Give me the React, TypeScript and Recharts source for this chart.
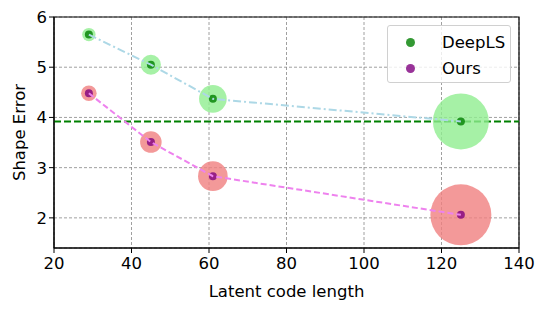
import { ScatterChart, Scatter, XAxis, YAxis, ZAxis, CartesianGrid, ReferenceLine, ReferenceArea, Legend } from "recharts"

const codeLengths = [29, 45, 61, 125]
const deepLSErrors = [5.65, 5.05, 4.37, 3.92]
const oursErrors = [4.48, 3.51, 2.83, 2.06]
// bubble areas (px^2)
const deepLSBubbles = [140, 315, 600, 2460]
const oursBubbles = [190, 365, 690, 2920]
const deepLSLevel = 3.92
const xTicks = [20, 40, 60, 80, 100, 120, 140]
const yTicks = [2, 3, 4, 5, 6]

const deepLS = codeLengths.map((x, i) => ({ x, y: deepLSErrors[i], z: deepLSBubbles[i] }))
const ours = codeLengths.map((x, i) => ({ x, y: oursErrors[i], z: oursBubbles[i] }))

const font = "'DejaVu Sans', sans-serif"
const fs = 16.5

const bubble = (fill: string) => (p: any) => (
  <circle cx={p.cx} cy={p.cy} r={p.width / 2} fill={fill} fillOpacity={0.8} />
)
const dot = (fill: string) => (p: any) => (
  <circle cx={p.cx} cy={p.cy} r={4} fill={fill} fillOpacity={0.8} />
)
const none = () => <g />

function LegendBox() {
  const items = [
    { name: "DeepLS", color: "green" },
    { name: "Ours", color: "purple" },
  ]
  return (
    <div
      style={{
        width: 122,
        height: 56,
        border: "1px solid #d0d0d0",
        borderRadius: 3,
        background: "rgba(255,255,255,0.8)",
        fontFamily: font,
        fontSize: fs,
        position: "relative",
      }}
    >
      {items.map((it, i) => (
        <div key={it.name} style={{ position: "absolute", left: 0, top: 5 + i * 26, height: 22, display: "flex", alignItems: "center" }}>
          <span
            style={{
              display: "inline-block",
              width: 9,
              height: 9,
              borderRadius: "50%",
              background: it.color,
              opacity: 0.8,
              marginLeft: 18,
              marginRight: 27,
            }}
          />
          <span style={{ color: "#000" }}>{it.name}</span>
        </div>
      ))}
    </div>
  )
}

export default function App() {
  return (
    <div style={{ position: "absolute", left: 0, top: 0 }}>
      <ScatterChart width={544} height={309} margin={{ top: 17, right: 25, left: 0, bottom: 0 }}>
        <CartesianGrid stroke="#888" strokeDasharray="3 2" strokeWidth={0.8} />
        <XAxis
          type="number"
          dataKey="x"
          domain={[20, 140]}
          ticks={xTicks}
          height={61}
          tickSize={5}
          tickMargin={4}
          stroke="#000"
          tick={{ fill: "#000", fontSize: fs, fontFamily: font }}
          label={{ value: "Latent code length", position: "insideBottom", offset: 12, fill: "#000", fontSize: fs, fontFamily: font }}
          allowDataOverflow
        />
        <YAxis
          type="number"
          dataKey="y"
          domain={[1.4, 6]}
          ticks={yTicks}
          width={54}
          tickSize={5}
          stroke="#000"
          tick={{ fill: "#000", fontSize: fs, fontFamily: font }}
          label={{ value: "Shape Error", angle: -90, position: "insideLeft", offset: 19, fill: "#000", fontSize: fs, fontFamily: font, style: { textAnchor: "middle" } }}
          allowDataOverflow
        />
        <ZAxis type="number" dataKey="z" domain={[0, 3000]} range={[0, 3000]} />
        <ReferenceLine y={deepLSLevel} stroke="green" strokeWidth={2} strokeDasharray="7 3" />
        <Scatter data={deepLS} shape={bubble("#90ee90")} isAnimationActive={false} legendType="none" />
        <Scatter data={ours} shape={bubble("#f08080")} isAnimationActive={false} legendType="none" />
        <Scatter data={deepLS} shape={dot("green")} isAnimationActive={false} />
        <Scatter data={ours} shape={dot("purple")} isAnimationActive={false} />
        <Scatter
          data={deepLS}
          shape={none}
          line={{ stroke: "#add8e6", strokeWidth: 2, strokeDasharray: "8 3 2 3" }}
          isAnimationActive={false}
        />
        <Scatter
          data={ours}
          shape={none}
          line={{ stroke: "#ee82ee", strokeWidth: 2, strokeDasharray: "6 3" }}
          isAnimationActive={false}
        />
        <ReferenceArea x1={20} x2={140} y1={1.4} y2={6} fill="none" stroke="#000" strokeWidth={1.2} fillOpacity={0} />
        <Legend
          layout="vertical"
          verticalAlign="middle"
          align="center"
          content={() => <LegendBox />}
          wrapperStyle={{ left: 387, top: 25, width: 124, height: 58 }}
        />
      </ScatterChart>
    </div>
  )
}
